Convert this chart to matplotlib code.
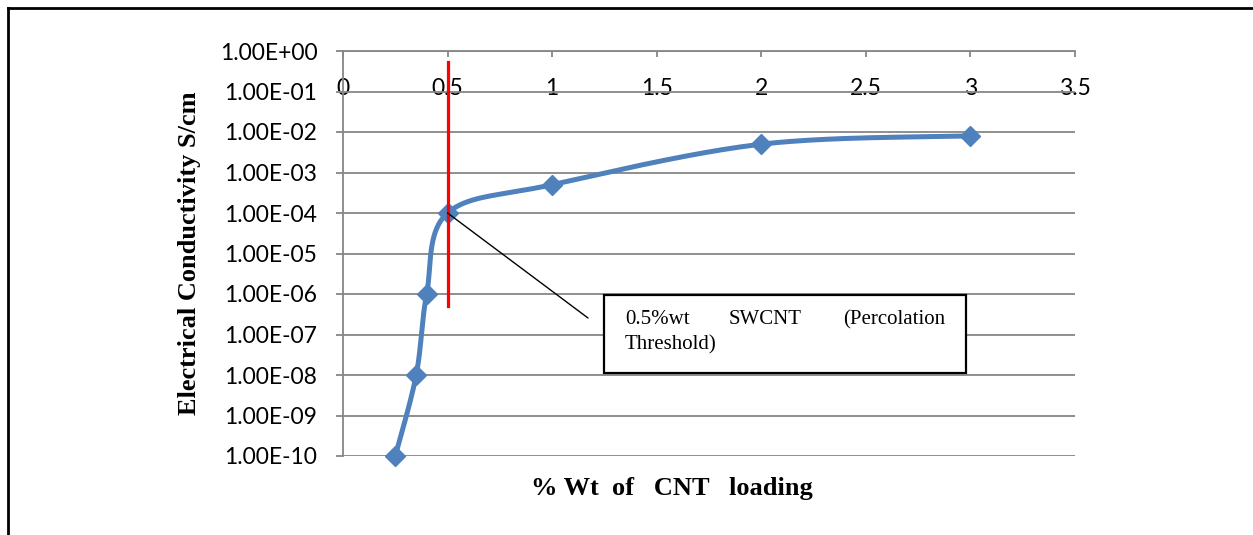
import numpy as np
import matplotlib
matplotlib.use("Agg")
import matplotlib.pyplot as plt
from matplotlib.lines import Line2D
from matplotlib.patches import Rectangle
from matplotlib.ticker import NullLocator

# ---- data ----
cnt_loading = [0.25, 0.35, 0.4, 0.5, 1, 2, 3]
conductivity = [1e-10, 1e-8, 1e-6, 1e-4, 5e-4, 5e-3, 8e-3]
x_ticks = [0, 0.5, 1, 1.5, 2, 2.5, 3, 3.5]
x_tick_labels = ["0", "0.5", "1", "1.5", "2", "2.5", "3", "3.5"]
y_ticks = [1e-10, 1e-9, 1e-8, 1e-7, 1e-6, 1e-5, 1e-4, 1e-3, 1e-2, 1e-1, 1e0]
y_tick_labels = ["1.00E-10", "1.00E-09", "1.00E-08", "1.00E-07", "1.00E-06",
                 "1.00E-05", "1.00E-04", "1.00E-03", "1.00E-02", "1.00E-01",
                 "1.00E+00"]
threshold_x = 0.5
threshold_span = [5e-7, 0.55]
annot_words = ["0.5%wt", "SWCNT", "(Percolation"]
annot_line2 = "Threshold)"
x_label = "% Wt  of   CNT   loading"
y_label = "Electrical Conductivity S/cm"

W, H = 1253, 535
GRAY = "#868686"
BLUE = "#4F81BD"
SERIF = "Liberation Serif"
SANS = "Lato"

fig = plt.figure(figsize=(W / 100, H / 100), dpi=100)
ax = fig.add_axes([343 / W, 1 - 456 / H, 732 / W, 405 / H])


def smooth(xs, ys, sx, sy, n=40):
    """Excel-style smoothed line (cubic Bezier / Catmull-Rom in screen space)."""
    P = np.column_stack([np.asarray(xs, float) * sx, np.log10(ys) * sy])
    E = np.vstack([P[0], P, P[-1]])
    out = []
    t = np.linspace(0, 1, n)[:, None]
    for i in range(len(P) - 1):
        p0, p1, p2, p3 = E[i], E[i + 1], E[i + 2], E[i + 3]
        b1 = p1 + (p2 - p0) / 6
        b2 = p2 - (p3 - p1) / 6
        seg = ((1 - t) ** 3) * p1 + 3 * ((1 - t) ** 2) * t * b1 + 3 * (1 - t) * t ** 2 * b2 + t ** 3 * p2
        out.append(seg if i == 0 else seg[1:])
    C = np.vstack(out)
    return C[:, 0] / sx, 10 ** (C[:, 1] / sy)


sx_, sy_ = smooth(cnt_loading, conductivity, 209, 40.5)
ax.plot(sx_, sy_, color=BLUE, lw=3.6, solid_capstyle="round", zorder=3, clip_on=False)
ax.plot(cnt_loading, conductivity, linestyle="none", marker="D", markersize=9.8,
        color=BLUE, zorder=4, clip_on=False)

# threshold line
ax.plot([threshold_x, threshold_x], threshold_span, color="#FF0000", lw=2.3, zorder=5)

ax.set_yscale("log")
ax.set_xlim(0, 3.5)
ax.set_ylim(1e-10, 1)
ax.set_yticks(y_ticks)
ax.set_yticklabels(y_tick_labels)
ax.yaxis.set_minor_locator(NullLocator())
ax.set_xticks(x_ticks)
ax.set_xticklabels(x_tick_labels)
ax.xaxis.tick_top()

ax.yaxis.grid(True, color=GRAY, lw=1.3)
ax.set_axisbelow(True)
for s in ["right", "bottom"]:
    ax.spines[s].set_visible(False)
for s in ["left", "top"]:
    ax.spines[s].set_color(GRAY)
    ax.spines[s].set_linewidth(1.3)

ax.tick_params(axis="y", direction="out", length=5, width=1.3, color=GRAY,
               pad=13.5, labelsize=16.5, labelcolor="black")
ax.tick_params(axis="x", direction="in", length=4.5, width=1.3, color=GRAY,
               pad=-34.5, labelsize=16.5, labelcolor="black", top=True, bottom=False,
               labeltop=True, labelbottom=False)
for lab in ax.get_xticklabels() + ax.get_yticklabels():
    lab.set_fontfamily(SANS)

# annotation box
box = Rectangle((261 / 732, (456 - 373) / 405), 362 / 732, 78 / 405,
                transform=ax.transAxes, facecolor="white", edgecolor="black",
                lw=1.6, zorder=6)
ax.add_patch(box)
ax.annotate("", xy=(threshold_x, 1e-4), xycoords="data",
            xytext=((588 - 343) / 732, (456 - 318) / 405), textcoords="axes fraction",
            arrowprops=dict(arrowstyle="-", color="black", lw=1.0,
                            shrinkA=0, shrinkB=0), zorder=6)
ty1 = (456 - 320) / 405
ty2 = (456 - 345) / 405
ax.text((625 - 343) / 732, ty1, annot_words[0], transform=ax.transAxes, ha="left",
        va="center", fontsize=15, fontfamily=SERIF, zorder=7)
ax.text((729 - 343) / 732, ty1, annot_words[1], transform=ax.transAxes, ha="left",
        va="center", fontsize=15, fontfamily=SERIF, zorder=7)
ax.text((945 - 343) / 732, ty1, annot_words[2], transform=ax.transAxes, ha="right",
        va="center", fontsize=15, fontfamily=SERIF, zorder=7)
ax.text((625 - 343) / 732, ty2, annot_line2, transform=ax.transAxes, ha="left",
        va="center", fontsize=15, fontfamily=SERIF, zorder=7)

# axis titles
fig.text(190 / W, 1 - 253.5 / H, y_label, rotation=90, ha="center", va="center",
         fontsize=19, fontweight="bold", fontfamily=SERIF)
fig.text(672 / W, 1 - 489 / H, x_label, ha="center", va="center",
         fontsize=19, fontweight="bold", fontfamily=SERIF)

# outer frame (partially visible)
fig.add_artist(Line2D([8 / W, 8 / W], [0, 1 - 8 / H], transform=fig.transFigure,
                      color="black", lw=2))
fig.add_artist(Line2D([8 / W, 1], [1 - 8 / H, 1 - 8 / H], transform=fig.transFigure,
                      color="black", lw=2))

fig.savefig("out.png", dpi=100)
